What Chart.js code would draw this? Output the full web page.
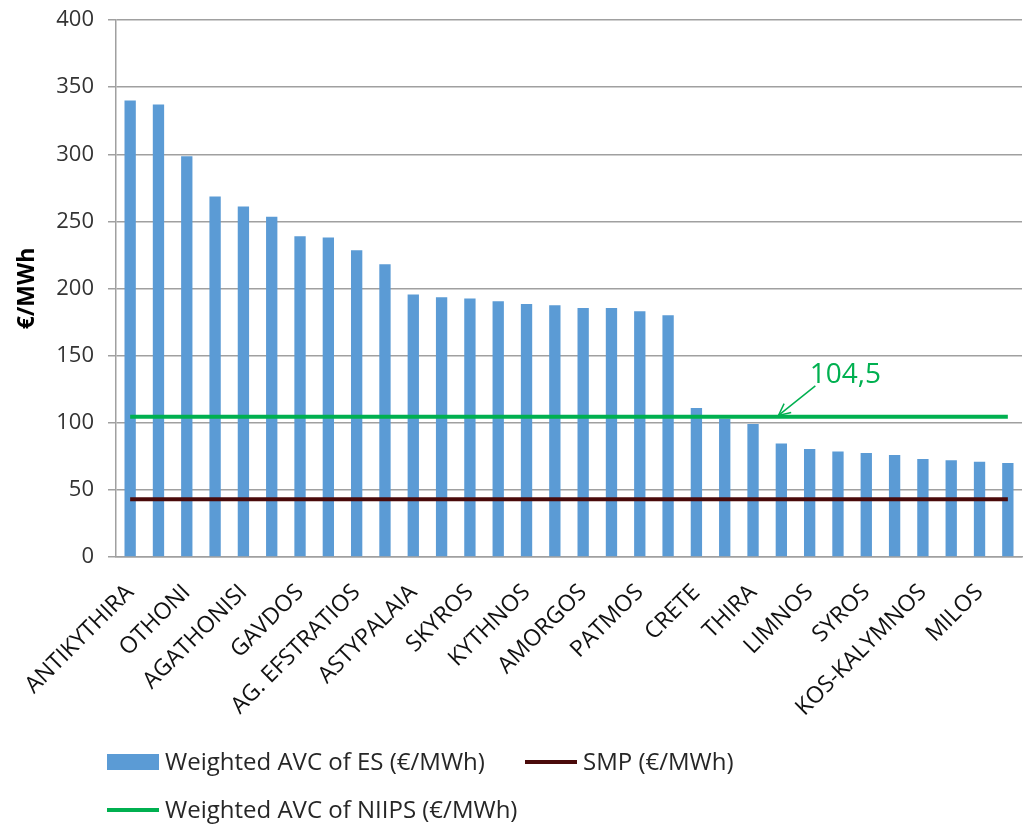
<!DOCTYPE html>
<html>
<head>
<meta charset="utf-8">
<script src="https://cdn.jsdelivr.net/npm/chart.js@4.4.1/dist/chart.umd.min.js"></script>
<style>
html,body{margin:0;padding:0;background:#ffffff;}
#wrap{width:1028px;height:824px;position:relative;}
</style>
</head>
<body>
<div id="wrap"><canvas id="c" width="1028" height="824"></canvas></div>
<script>
// ---- data ----
const categories = [
  'ANTIKYTHIRA','MEGISTI','OTHONI','ARKI','AGATHONISI','ANAFI','GAVDOS','DONOUSSA',
  'AG. EFSTRATIOS','SERIFOS','ASTYPALAIA','SIFNOS','SKYROS','IKARIA','KYTHNOS','SYMI',
  'AMORGOS','KARPATHOS','PATMOS','SAMOTHRAKI','CRETE','RHODES','THIRA','SAMOS',
  'LIMNOS','CHIOS','SYROS','LESVOS','KOS-KALYMNOS','PAROS','MILOS','MYKONOS'
];
const esValues = [
  340, 337, 298.5, 268.5, 261, 253.5, 239, 238,
  228.5, 218, 195.5, 193.5, 192.5, 190.5, 188.5, 187.5,
  185.5, 185.5, 183, 180, 111, 103, 99, 84.5,
  80.5, 78.5, 77.5, 76, 73, 72, 71, 70
];
const smpValue = 43;
const niipsValue = 104.5;
const yTicks = [0, 50, 100, 150, 200, 250, 300, 350, 400];
const seriesNames = ['Weighted AVC of ES (€/MWh)', 'SMP (€/MWh)', 'Weighted AVC of NIIPS (€/MWh)'];
const yTitle = '€/MWh';

// reference lines span first to last category
const smpLine = [{x: categories[0], y: smpValue}, {x: categories[categories.length - 1], y: smpValue}];
const niipsLine = [{x: categories[0], y: niipsValue}, {x: categories[categories.length - 1], y: niipsValue}];

const FONT = '"Open Sans", "DejaVu Sans", sans-serif';

// ---- custom legend (two rows like the original) ----
const legendPlugin = {
  id: 'rowLegend',
  afterDraw(chart, args, opts) {
    const ctx = chart.ctx;
    ctx.save();
    ctx.font = opts.fontSize + 'px ' + FONT;
    ctx.textBaseline = 'middle';
    ctx.textAlign = 'left';
    opts.items.forEach(it => {
      const ds = chart.data.datasets[it.dataset];
      const x = it.x, y = it.y;
      if (ds.type === 'bar') {
        ctx.fillStyle = ds.backgroundColor;
        ctx.fillRect(x, y - 8, opts.swatch, 16);
      } else {
        ctx.strokeStyle = ds.borderColor;
        ctx.lineWidth = ds.borderWidth;
        ctx.beginPath();
        ctx.moveTo(x, y);
        ctx.lineTo(x + opts.swatch, y);
        ctx.stroke();
      }
      ctx.fillStyle = opts.color;
      ctx.fillText(ds.label, x + opts.swatch + 6, y + 1);
    });
    ctx.restore();
  }
};

// ---- annotation "104,5" with arrow ----
const annotPlugin = {
  id: 'niipsNote',
  afterDatasetsDraw(chart, args, o) {
    const xs = chart.scales.x, ys = chart.scales.y;
    const ctx = chart.ctx;
    ctx.save();
    ctx.fillStyle = o.color;
    ctx.strokeStyle = o.color;
    ctx.font = o.fontSize + 'px ' + FONT;
    ctx.textAlign = 'left';
    ctx.textBaseline = 'middle';
    ctx.fillText(niipsValue.toFixed(1).replace('.', ','), xs.getPixelForValue(o.textIndex), ys.getPixelForValue(o.textValue));
    const x1 = xs.getPixelForValue(o.tailIndex), y1 = ys.getPixelForValue(o.tailValue);
    const x2 = xs.getPixelForValue(o.tipIndex), y2 = ys.getPixelForValue(o.tipValue);
    ctx.lineWidth = 1.5;
    ctx.beginPath();
    ctx.moveTo(x1, y1); ctx.lineTo(x2, y2); ctx.stroke();
    const ang = Math.atan2(y2 - y1, x2 - x1);
    const hl = 13, spread = 0.45;
    ctx.beginPath();
    ctx.moveTo(x2 - hl * Math.cos(ang - spread), y2 - hl * Math.sin(ang - spread));
    ctx.lineTo(x2, y2);
    ctx.lineTo(x2 - hl * Math.cos(ang + spread), y2 - hl * Math.sin(ang + spread));
    ctx.stroke();
    ctx.restore();
  }
};

new Chart(document.getElementById('c'), {
  data: {
    labels: categories,
    datasets: [
      {
        type: 'bar',
        label: seriesNames[0],
        data: esValues,
        backgroundColor: '#5B9BD5',
        borderWidth: 0,
        barPercentage: 0.4,
        categoryPercentage: 1.0,
        order: 3
      },
      {
        type: 'line',
        label: seriesNames[1],
        data: smpLine,
        borderColor: '#4A0A0A',
        borderWidth: 4,
        pointRadius: 0,
        fill: false,
        order: 1
      },
      {
        type: 'line',
        label: seriesNames[2],
        data: niipsLine,
        borderColor: '#00B050',
        borderWidth: 4,
        pointRadius: 0,
        fill: false,
        order: 2
      }
    ]
  },
  options: {
    responsive: false,
    animation: false,
    devicePixelRatio: 1,
    layout: { padding: { left: 0, right: 6, top: 20, bottom: 107 } },
    plugins: {
      legend: { display: false },
      tooltip: { enabled: false },
      rowLegend: {
        fontSize: 24,
        swatch: 52,
        color: '#262626',
        items: [
          { dataset: 0, x: 107, y: 762 },
          { dataset: 1, x: 525, y: 762 },
          { dataset: 2, x: 107, y: 810 }
        ]
      },
      niipsNote: {
        color: '#00B050',
        fontSize: 28,
        textIndex: 24,
        textValue: 135.5,
        tailIndex: 24.2,
        tailValue: 127.5,
        tipIndex: 22.9,
        tipValue: 105.5
      }
    },
    scales: {
      x: {
        type: 'category',
        offset: true,
        grid: { display: false, drawTicks: false },
        border: { display: true, color: '#A0A0A0', width: 1.5 },
        ticks: {
          autoSkip: false,
          minRotation: 45,
          maxRotation: 45,
          padding: 22,
          color: '#111111',
          font: { family: FONT, size: 23 },
          callback: (v, i) => (i % 2 === 0 ? categories[i] : '')
        },
        afterFit: s => { s.height = 160; s.paddingLeft = 0; s.paddingRight = 0; }
      },
      y: {
        min: yTicks[0],
        max: yTicks[yTicks.length - 1],
        afterBuildTicks: s => { s.ticks = yTicks.map(v => ({ value: v })); },
        grid: { color: '#A0A0A0', lineWidth: 1.5, tickLength: 8, drawTicks: true },
        border: { display: true, color: '#A0A0A0', width: 1.5 },
        ticks: {
          padding: 14,
          color: '#333333',
          font: { family: FONT, size: 22 }
        },
        title: {
          display: true,
          text: yTitle,
          color: '#000000',
          font: { family: FONT, size: 23, weight: 'bold' },
          padding: { top: 14, bottom: 0 }
        },
        afterFit: s => { s.width = 116; s.paddingTop = 0; s.paddingBottom = 0; }
      }
    }
  },
  plugins: [legendPlugin, annotPlugin]
});
</script>
</body>
</html>
